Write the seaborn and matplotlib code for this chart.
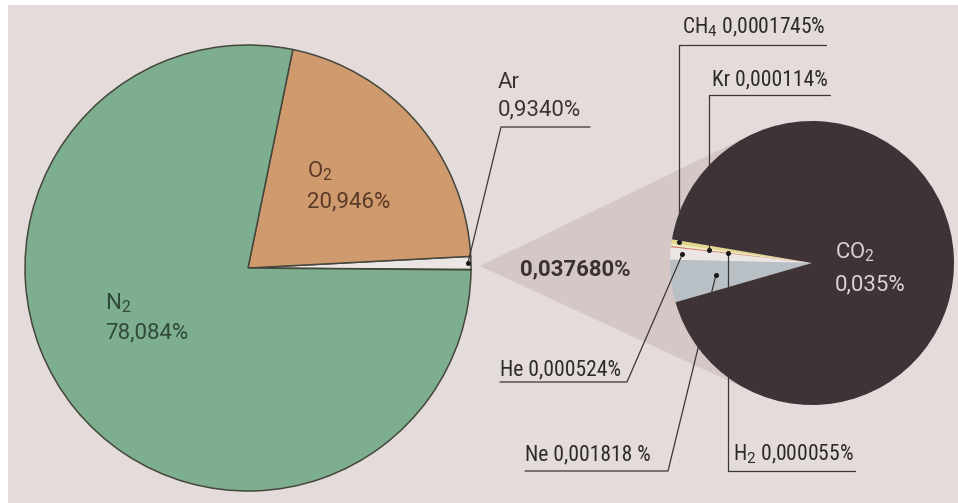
import numpy as np
import matplotlib
matplotlib.use('Agg')
import matplotlib.pyplot as plt
import seaborn as sns
from matplotlib.patches import Polygon, Rectangle

W, H = 958, 503

# ---- data ----
big_names = ['', 'Ar', 'O$_2$', 'N$_2$']
big_values = [0.037680, 0.9340, 20.946, 78.084]
big_texts = ['0,037680%', '0,9340%', '20,946%', '78,084%']

small_names = ['CH$_4$', 'Kr', 'H$_2$', 'He', 'Ne', 'CO$_2$']
small_values = [0.0001745, 0.000114, 0.000055, 0.000524, 0.001818, 0.035]
small_texts = ['0,0001745%', '0,000114%', '0,000055%', '0,000524%', '0,001818 %', '0,035%']

sns.set_theme(style='white')
plt.rcParams['font.family'] = ['Roboto', 'DejaVu Sans']
plt.rcParams['mathtext.fontset'] = 'custom'
plt.rcParams['mathtext.rm'] = 'Roboto'
plt.rcParams['mathtext.default'] = 'rm'

bg = '#e4dcdb'
fig = plt.figure(figsize=(W / 100, H / 100), dpi=100)
fig.patch.set_facecolor(bg)
ax = fig.add_axes([0, 0, 1, 1])


def P(x, y):
    return (x, H - y)


# ---- big pie ----
big_colors = ['#ebe5e3', '#ebe5e3', '#cf9a6e', '#7eae90']
big_c = P(248, 268)
big_r = 223
wedges_big, _ = ax.pie(big_values, colors=big_colors, startangle=-0.5,
                       radius=big_r, center=big_c, frame=True,
                       wedgeprops=dict(edgecolor='#45473c', linewidth=1.1))

# ---- small pie ----
small_colors = ['#e3d78c', '#f1edc2', '#dd7b73', '#ebe6e4', '#b8bfc5', '#3e3337']
small_c = P(812, 263)
small_r = 142
wedges_small, _ = ax.pie(small_values, colors=small_colors, startangle=170.4,
                         radius=small_r, center=small_c, frame=True,
                         wedgeprops=dict(edgecolor='none', linewidth=0))

# ---- cone joining the pies ----
apex = np.array(P(480, 266), dtype=float)
cvec = np.array(small_c, dtype=float) - apex
d = np.hypot(*cvec)
base = np.arctan2(cvec[1], cvec[0])
half = np.arcsin(small_r / d)
L = np.sqrt(d ** 2 - small_r ** 2)
t1 = apex + L * np.array([np.cos(base + half), np.sin(base + half)])
t2 = apex + L * np.array([np.cos(base - half), np.sin(base - half)])
ax.add_patch(Polygon([apex, t1, small_c, t2], closed=True, fc='#d6c7c7',
                     ec='none', zorder=0.5))


def wedge_point(w, center, r):
    th = np.deg2rad((w.theta1 + w.theta2) / 2)
    return (center[0] + r * np.cos(th), center[1] + r * np.sin(th))


line_kw = dict(color='#3a3636', lw=0.9, zorder=5)
dot_kw = dict(marker='o', ms=2.6, color='#1a1818', zorder=6, ls='none')

# Ar leader
ar_dot = wedge_point(wedges_big[1], big_c, 220)
ax.plot([ar_dot[0], 501, 590], [ar_dot[1], H - 127, H - 127], **line_kw)
ax.plot(*ar_dot, **dot_kw)

# small pie leaders
dot_r = [135, 104, 85, 130, 97]
dots = [wedge_point(wedges_small[i], small_c, dot_r[i]) for i in range(5)]
paths = [
    [dots[0], (dots[0][0], H - 45), (826, H - 45)],
    [dots[1], (dots[1][0], H - 95), (830, H - 95)],
    [dots[2], (dots[2][0], H - 471), (855, H - 471)],
    [dots[3], (627, H - 382), (500, H - 382)],
    [dots[4], (668, H - 471), (525, H - 471)],
]
for pth, dt in zip(paths, dots):
    ax.plot([p[0] for p in pth], [p[1] for p in pth], **line_kw)
    ax.plot(*dt, **dot_kw)

# ---- texts ----
small_font = ['Roboto Condensed', 'DejaVu Sans']
small_pos = [(682, 33), (712, 85), (733, 460), (500, 375), (525, 460)]
for i in range(5):
    x, y = small_pos[i]
    ax.text(x, H - y, f'{small_names[i]} {small_texts[i]}', fontsize=15.5,
            family=small_font, color='#2e2a2a', va='baseline', ha='left',
            zorder=7)

# CO2
ax.text(835, H - 258, small_names[5], fontsize=16, color='#dcd4d4',
        va='baseline', zorder=7)
ax.text(835, H - 290, small_texts[5], fontsize=16, color='#dcd4d4',
        va='baseline', zorder=7)

# big pie labels
big_label_pos = {1: ((498, 88), (498, 115), '#3a3434'),
                 2: ((307, 177), (307, 207), '#5b3a26'),
                 3: ((105, 309), (105, 338), '#2f4a3a')}
for i, ((x1, y1), (x2, y2), col) in big_label_pos.items():
    ax.text(x1, H - y1, big_names[i], fontsize=16, color=col, va='baseline', zorder=7)
    ax.text(x2, H - y2, big_texts[i], fontsize=16, color=col, va='baseline', zorder=7)

ax.text(520, H - 275, big_texts[0], fontsize=16, fontweight='bold',
        color='#3a3232', va='baseline', zorder=7)

# photo white margins
ax.add_patch(Rectangle((0, H - 5), W, 5, fc='white', ec='none', zorder=20))
ax.add_patch(Rectangle((0, 0), 8, H, fc='white', ec='none', zorder=20))

ax.set_xlim(0, W)
ax.set_ylim(0, H)
ax.set_aspect('equal')
ax.axis('off')

fig.savefig('out.png', dpi=100, facecolor=fig.get_facecolor())
